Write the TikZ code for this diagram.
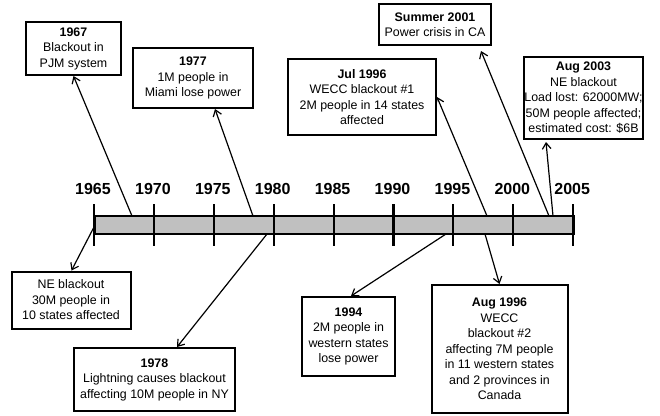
\documentclass[tikz,border=0pt]{standalone}
\usepackage{fontspec}
\setmainfont{Liberation Sans}
\usetikzlibrary{arrows.meta,calc}
\definecolor{barfill}{HTML}{C0C0C0}
\begin{document}
\begin{tikzpicture}[x=0.75pt,y=-0.75pt,
  evbox/.style={draw,line width=1.5pt,align=center,inner sep=0pt,
    font=\fontsize{9.3}{11.6}\selectfont},
  sz/.style 2 args={minimum width=#1*0.75pt,minimum height=#2*0.75pt},
  yearlbl/.style={font=\bfseries\fontsize{12}{14}\selectfont,inner sep=0pt},
  tickmark/.style={line width=1.6pt},
  conn/.style={line width=0.9pt,-{Straight Barb[length=4.5pt,width=6.5pt]}}]
\fill[white] (0,0) rectangle (660,415);
\useasboundingbox (0,0) rectangle (660,415);

% timeline bar
\node[draw,fill=barfill,line width=1.5pt,inner sep=0pt,anchor=west,
  minimum width=479.2*0.75pt,minimum height=18*0.75pt] (bar) at (94,225) {};
\foreach \yr [count=\i from 0] in {1965,1970,1975,1980,1985,1990,1995,2000,2005}{
  \draw[tickmark] ({94+59.9*\i},204) -- ({94+59.9*\i},246);
  \node[yearlbl] (y\yr) at ({93+59.9*\i},188.5) {\yr};
}

% event boxes
\node[evbox,sz={95}{53}] (b1967) at (73.5,48.5) {\textbf{1967}\\Blackout in\\PJM system};
\node[evbox,sz={120}{60}] (b1977) at (193,78) {\textbf{1977}\\1M people in\\Miami lose power};
\node[evbox,sz={148}{76}] (bjul96) at (362,97) {\textbf{Jul 1996}\\WECC blackout \#1\\2M people in 14 states\\affected};
\node[evbox,sz={112}{41}] (b2001) at (435,24.5) {\textbf{Summer 2001}\\Power crisis in CA};
\node[evbox,sz={118}{82}] (b2003) at (583.5,98) {\textbf{Aug 2003}\\NE blackout\\Load lost: 62000MW;\\50M people affected;\\estimated cost: \$6B};
\node[evbox,sz={119}{57}] (bne) at (71,300) {NE blackout\\30M people in\\10 states affected};
\node[evbox,sz={161}{63}] (b1978) at (154.5,379.5) {\textbf{1978}\\Lightning causes blackout\\affecting 10M people in NY};
\node[evbox,sz={93}{79}] (b1994) at (348.5,336.5) {\textbf{1994}\\2M people in\\western states\\lose power};
\node[evbox,sz={136}{128}] (baug96) at (499.5,349) {\textbf{Aug 1996}\\WECC\\blackout \#2\\affecting 7M people\\in 11 western states\\and 2 provinces in\\Canada};

% connector start points on the bar
\coordinate (s1967) at (132,216);
\coordinate (s1977) at (253,216);
\coordinate (sjul96) at (487,216);
\coordinate (s2001) at (549,216);
\coordinate (s2003) at (553,216);
\coordinate (sne) at (94,227);
\coordinate (s1978) at (267,234);
\coordinate (s1994) at (446,234);
\coordinate (saug96) at (485,234);

\draw[conn] (s1967) -- (b1967.south);
\draw[conn] (s1977) -- ($(b1977.south)+(22,0)$);
\draw[conn] (sjul96) -- (bjul96.east);
\draw[conn] (s2001) -- ($(b2001.south)+(46,5)$);
\draw[conn] (s2003) -- ($(b2003.south)+(-37.5,2)$);
\draw[conn] (sne) -- ($(bne.north)+(0.5,0)$);
\draw[conn] (s1978) -- ($(b1978.north)+(22.5,0)$);
\draw[conn] (s1994) -- ($(b1994.north)+(2.5,0)$);
\draw[conn] (saug96) -- (baug96.north);
\end{tikzpicture}
\end{document}
